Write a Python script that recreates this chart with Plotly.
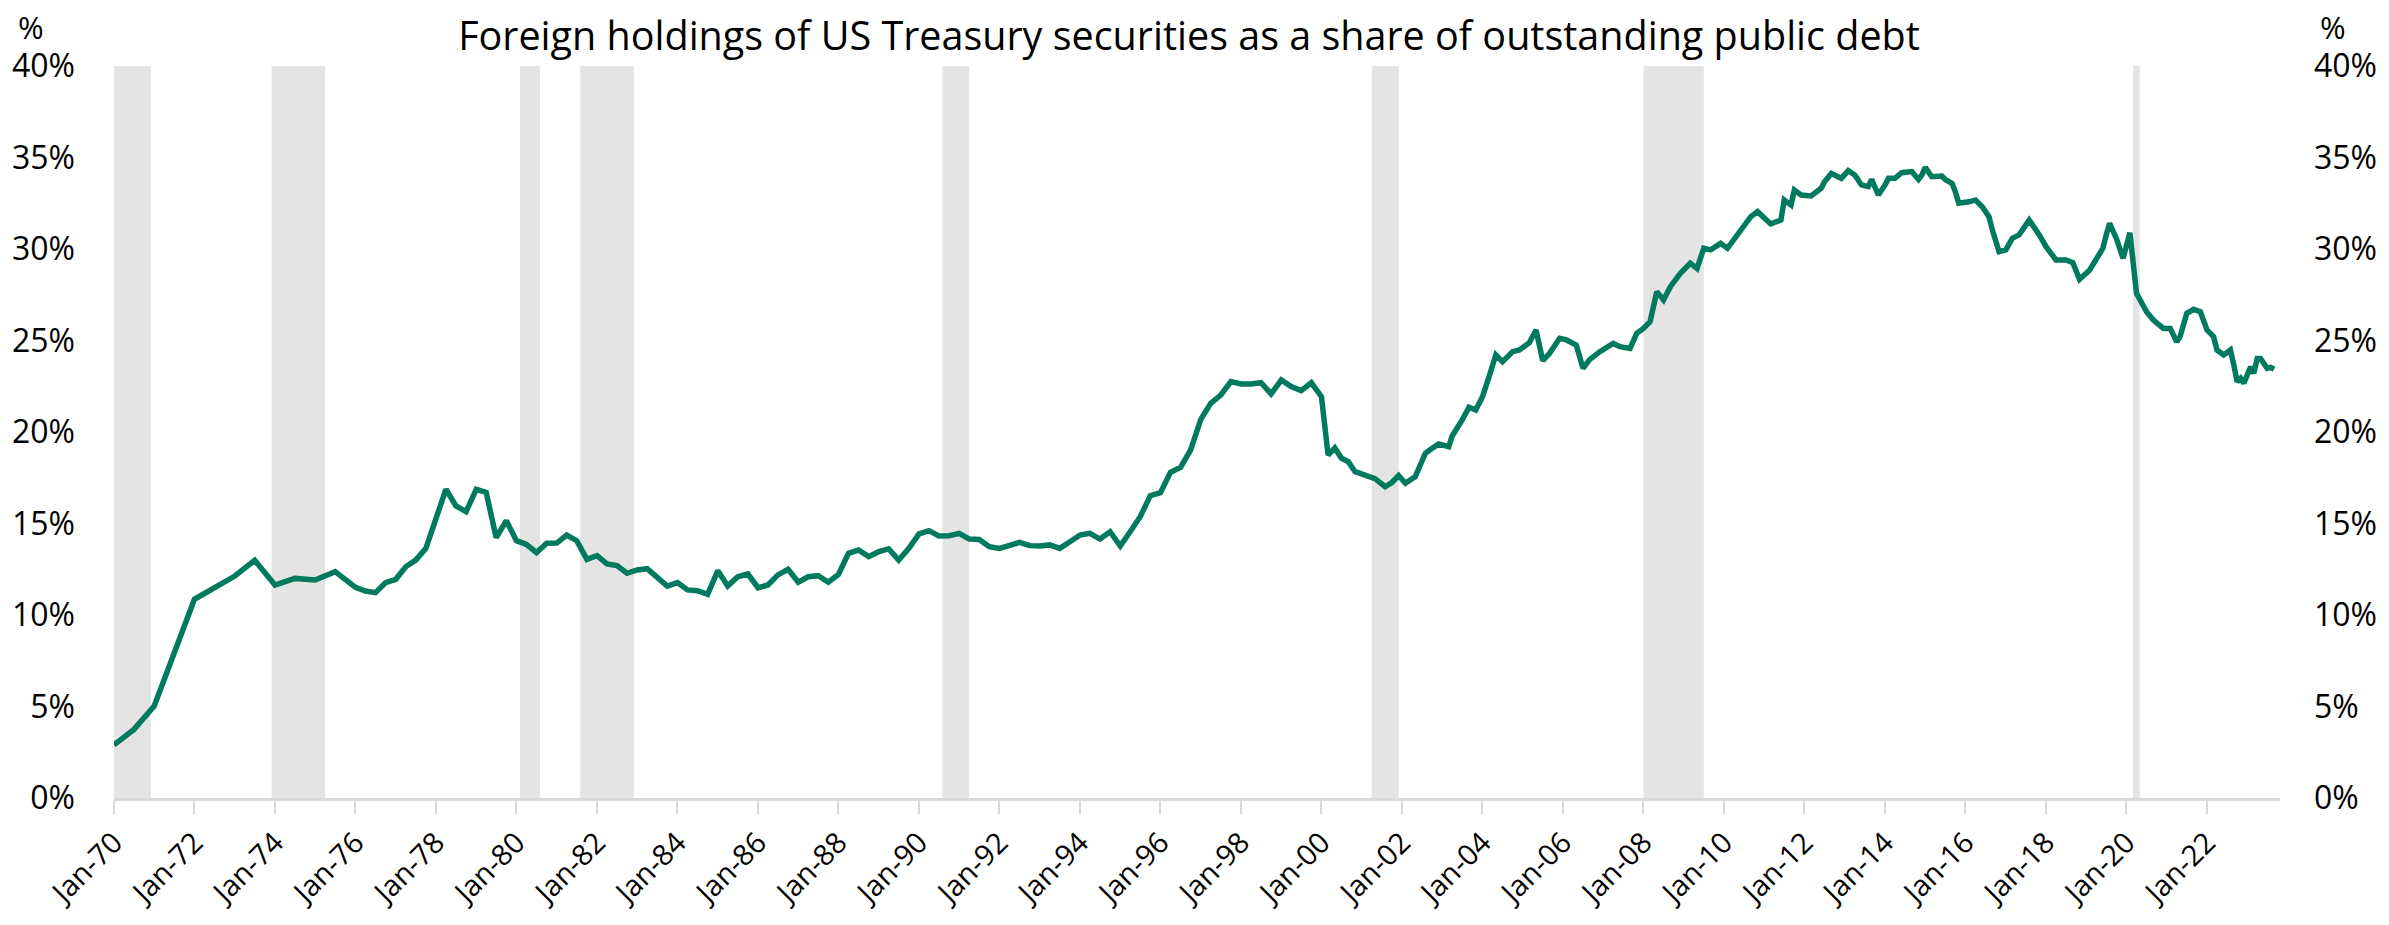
import plotly.graph_objects as go

# ---- Data ----
dates = [
    "1970-01", "1970-07", "1971-01", "1972-01", "1973-01", "1973-07", "1974-01", "1974-07",
    "1975-01", "1975-07", "1976-01", "1976-04", "1976-07", "1976-10", "1977-01", "1977-04",
    "1977-07", "1977-10", "1978-04", "1978-07", "1978-10", "1979-01", "1979-04", "1979-07",
    "1979-10", "1980-01", "1980-04", "1980-07", "1980-10", "1981-01", "1981-04", "1981-07",
    "1981-10", "1982-01", "1982-04", "1982-07", "1982-10", "1983-01", "1983-04", "1983-07",
    "1983-10", "1984-01", "1984-04", "1984-07", "1984-10", "1985-01", "1985-04", "1985-07",
    "1985-10", "1986-01", "1986-04", "1986-07", "1986-10", "1987-01", "1987-04", "1987-07",
    "1987-10", "1988-01", "1988-04", "1988-07", "1988-10", "1989-01", "1989-04", "1989-07",
    "1989-10", "1990-01", "1990-04", "1990-07", "1990-10", "1991-01", "1991-04", "1991-07",
    "1991-10", "1992-01", "1992-04", "1992-07", "1992-10", "1993-01", "1993-04", "1993-07",
    "1993-10", "1994-01", "1994-04", "1994-07", "1994-10", "1995-01", "1995-04", "1995-07",
    "1995-10", "1996-01", "1996-04", "1996-07", "1996-10", "1997-01", "1997-04", "1997-07",
    "1997-10", "1998-01", "1998-04", "1998-07", "1998-10", "1999-01", "1999-04", "1999-07",
    "1999-10", "2000-01", "2000-03", "2000-05", "2000-07", "2000-09", "2000-11", "2001-02",
    "2001-05", "2001-08", "2001-10", "2001-12", "2002-02", "2002-05", "2002-08", "2002-10",
    "2002-12", "2003-03", "2003-04", "2003-07", "2003-09", "2003-11", "2004-01", "2004-03",
    "2004-05", "2004-07", "2004-10", "2004-12", "2005-03", "2005-05", "2005-07", "2005-09",
    "2005-12", "2006-02", "2006-05", "2006-07", "2006-09", "2006-12", "2007-04", "2007-06",
    "2007-09", "2007-11", "2008-01", "2008-03", "2008-05", "2008-07", "2008-09", "2008-12",
    "2009-03", "2009-05", "2009-07", "2009-09", "2009-12", "2010-02", "2010-04", "2010-06",
    "2010-09", "2010-11", "2011-01", "2011-03", "2011-06", "2011-07", "2011-09", "2011-10",
    "2011-12", "2012-03", "2012-06", "2012-07", "2012-09", "2012-12", "2013-02", "2013-04",
    "2013-06", "2013-08", "2013-09", "2013-11", "2014-01", "2014-02", "2014-04", "2014-06",
    "2014-09", "2014-11", "2014-12", "2015-01", "2015-03", "2015-06", "2015-07", "2015-09",
    "2015-10", "2015-11", "2016-02", "2016-04", "2016-06", "2016-08", "2016-09", "2016-11",
    "2017-01", "2017-03", "2017-05", "2017-08", "2017-11", "2018-01", "2018-04", "2018-07",
    "2018-09", "2018-11", "2019-02", "2019-04", "2019-06", "2019-07", "2019-08", "2019-10",
    "2019-12", "2020-02", "2020-04", "2020-07", "2020-09", "2020-12", "2021-02", "2021-04",
    "2021-05", "2021-07", "2021-09", "2021-11", "2022-01", "2022-03", "2022-04", "2022-06",
    "2022-08", "2022-09", "2022-10", "2022-11", "2022-12", "2023-02", "2023-03", "2023-04",
    "2023-05", "2023-07", "2023-08", "2023-09",
]
share_pct = [
    2.90, 3.75, 5.03, 10.86, 12.13, 12.99, 11.64, 12.00,
    11.91, 12.37, 11.51, 11.31, 11.22, 11.77, 11.95, 12.64,
    13.00, 13.64, 16.87, 15.96, 15.65, 16.87, 16.70, 14.23,
    15.15, 14.06, 13.86, 13.41, 13.92, 13.93, 14.37, 14.06,
    13.04, 13.24, 12.79, 12.70, 12.28, 12.46, 12.53, 12.09,
    11.58, 11.77, 11.37, 11.33, 11.13, 12.42, 11.58, 12.09,
    12.24, 11.49, 11.64, 12.19, 12.50, 11.79, 12.09, 12.15,
    11.79, 12.22, 13.37, 13.55, 13.19, 13.46, 13.61, 13.00,
    13.64, 14.43, 14.61, 14.32, 14.33, 14.46, 14.15, 14.13,
    13.73, 13.64, 13.77, 13.97, 13.79, 13.77, 13.83, 13.64,
    14.00, 14.37, 14.46, 14.15, 14.55, 13.77, 14.55, 15.37,
    16.52, 16.68, 17.80, 18.07, 19.02, 20.69, 21.57, 22.02,
    22.75, 22.62, 22.62, 22.69, 22.08, 22.84, 22.48, 22.26,
    22.69, 21.93, 18.74, 19.13, 18.56, 18.38, 17.83, 17.65,
    17.45, 17.01, 17.24, 17.62, 17.20, 17.56, 18.84, 19.11,
    19.34, 19.20, 19.78, 20.66, 21.35, 21.20, 21.93, 23.02,
    24.21, 23.84, 24.39, 24.48, 24.88, 25.57, 23.90, 24.30,
    25.12, 25.03, 24.75, 23.48, 23.97, 24.39, 24.84, 24.66,
    24.57, 25.39, 25.66, 26.03, 27.67, 27.21, 27.94, 28.67,
    29.22, 28.94, 30.04, 29.95, 30.31, 30.04, 30.49, 30.95,
    31.77, 32.04, 31.68, 31.37, 31.58, 32.68, 32.40, 33.22,
    32.95, 32.90, 33.32, 33.68, 34.13, 33.86, 34.28, 34.04,
    33.50, 33.41, 33.80, 32.95, 33.50, 33.86, 33.86, 34.17,
    34.23, 33.80, 34.04, 34.46, 33.95, 33.99, 33.80, 33.59,
    33.13, 32.50, 32.58, 32.68, 32.31, 31.77, 31.04, 29.85,
    29.95, 30.58, 30.77, 31.58, 30.77, 30.13, 29.40, 29.40,
    29.25, 28.34, 28.85, 29.40, 30.04, 30.77, 31.40, 30.58,
    29.49, 30.89, 27.58, 26.57, 26.12, 25.66, 25.66, 24.93,
    25.21, 26.48, 26.70, 26.57, 25.57, 25.21, 24.48, 24.21,
    24.48, 23.66, 22.75, 22.93, 22.66, 23.57, 23.20, 24.02,
    24.02, 23.48, 23.53, 23.43,
]

# NBER recession periods (shaded)
rec_start = ["1970-01-01", "1973-12-01", "1980-02-01", "1981-08-01",
             "1990-08-01", "2001-04-01", "2008-01-01", "2020-03-01"]
rec_end = ["1970-12-01", "1975-04-01", "1980-08-01", "1982-12-01",
           "1991-04-01", "2001-12-01", "2009-07-01", "2020-05-01"]

y_ticks = [0, 0.05, 0.10, 0.15, 0.20, 0.25, 0.30, 0.35, 0.40]

title_text = "Foreign holdings of US Treasury securities as a share of outstanding public debt"

# ---- Figure ----
values = [v / 100 for v in share_pct]
FONT = "Open Sans"
LINE_COLOR = "#007A5E"
BAND_COLOR = "#E4E4E4"
AXIS_GREY = "#D9D9D9"

# page body has an 8px margin, so the figure is 16px smaller than the window
W, H = 2373, 909
ML, MR, MT, MB = 106, 101, 58, 119
PW, PH = W - ML - MR, H - MT - MB

fig = go.Figure()
fig.add_trace(go.Scatter(
    x=dates, y=values, mode="lines",
    line=dict(color=LINE_COLOR, width=5.5),
    showlegend=False, hoverinfo="x+y",
))
# invisible trace so the right-hand axis is drawn
fig.add_trace(go.Scatter(
    x=dates, y=values, mode="lines", yaxis="y2",
    line=dict(color="rgba(0,0,0,0)", width=0),
    showlegend=False, hoverinfo="skip",
))

for s, e in zip(rec_start, rec_end):
    fig.add_shape(type="rect", xref="x", yref="y", x0=s, x1=e, y0=0, y1=0.40,
                  fillcolor=BAND_COLOR, line=dict(width=0), layer="below")

ytickfont = dict(family=FONT, size=32, color="#000000")
xtickfont = dict(family=FONT, size=29, color="#000000")

fig.update_layout(
    width=W, height=H,
    paper_bgcolor="white", plot_bgcolor="white",
    margin=dict(l=ML, r=MR, t=MT, b=MB, autoexpand=False),
    font=dict(family=FONT, color="#000000"),
    title=dict(text=title_text, x=0.5 - 8 / PW, xref="paper", y=1 - 28 / H, yref="container",
               xanchor="center", yanchor="middle",
               font=dict(family=FONT, size=39.5, color="#000000")),
    xaxis=dict(
        type="date", automargin=False,
        range=["1970-01-01", "2023-10-25"],
        tick0="1970-01-01", dtick="M24", tickformat="%b-%y",
        tickangle=-45, tickfont=xtickfont, ticklabelstandoff=0,
        ticks="outside", ticklen=13, tickwidth=2, tickcolor=AXIS_GREY,
        showline=True, linecolor=AXIS_GREY, linewidth=3,
        showgrid=False, zeroline=False,
    ),
    yaxis=dict(
        range=[0, 0.40], tickvals=y_ticks, tickformat=".0%", automargin=False,
        tickfont=ytickfont, ticks="", ticklabelstandoff=38,
        showline=False, showgrid=False, zeroline=False,
    ),
    yaxis2=dict(
        range=[0, 0.40], tickvals=y_ticks, tickformat=".0%", automargin=False,
        tickfont=ytickfont, ticks="", ticklabelstandoff=33,
        overlaying="y", side="right",
        showline=False, showgrid=False, zeroline=False,
    ),
    annotations=[
        dict(text="%", xref="paper", yref="paper", x=-83 / PW, y=1 + 39 / PH,
             xanchor="center", yanchor="middle", showarrow=False,
             font=dict(family=FONT, size=31, color="#000000")),
        dict(text="%", xref="paper", yref="paper", x=1 + 53 / PW, y=1 + 39 / PH,
             xanchor="center", yanchor="middle", showarrow=False,
             font=dict(family=FONT, size=31, color="#000000")),
    ],
)

fig.write_html("out.html")
